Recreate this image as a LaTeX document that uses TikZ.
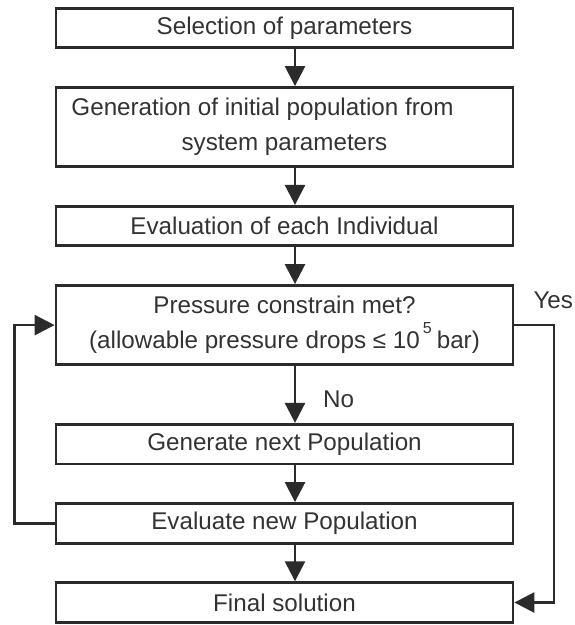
\documentclass[tikz,border=0pt]{standalone}
\usepackage{fontspec}
\setmainfont{Liberation Sans}
\usetikzlibrary{positioning,arrows.meta}

\definecolor{linecol}{HTML}{2B2B2B}
\definecolor{textcol}{HTML}{333333}
\tikzset{
  stage/.style={draw=linecol, line width=1.4pt, fill=white, minimum width=228.5pt, minimum height=19.8pt,
    inner sep=0pt, align=center, text=textcol, font=\fontsize{12.1}{17.5}\selectfont},
  tall/.style={stage, minimum height=39.6pt},
  note/.style={anchor=base west, inner sep=0pt, text=textcol, font=\fontsize{12.1}{17.5}\selectfont},
  flow/.style={draw=linecol, line width=1.3pt, -{Triangle[length=10pt,width=10pt]}},
}

\begin{document}
\begin{tikzpicture}[node distance={18.4pt}]
    \useasboundingbox (0,0) rectangle (287pt,-312.5pt);
    \node[stage] (1) at (142.25pt,-14.05pt) {Selection of parameters};
    \node[tall] (2) [below=of 1] {Generation of initial population from\hspace*{22pt}\\system parameters};
    \node[stage] (3) [below=of 2] {Evaluation of each Individual};
    \node[tall] (4) [below=of 3] {Pressure constrain met?\\(allowable pressure drops ≤ 10\hspace{1.5pt}\raisebox{7.5pt}{\fontsize{8}{8}\selectfont 5}\hspace{2.5pt}bar)};
    \node[stage] (5) [below=28.4pt of 4] {Generate next Population};
    \node[stage] (6) [below=of 5] {Evaluate new Population};
    \node[stage] (7) [below=of 6] {Final solution};
    \node[note] (yes) at ([xshift=9.35pt,yshift=8.25pt]4.east) {Yes};
    \node[note] (no) at ([xshift=19.1pt,yshift=-20.45pt]4.south) {No};
\begin{scope}[flow]
    \foreach \a/\b in {1/2,2/3,3/4,4/5,5/6,6/7}
      \draw ([xshift=5.25pt]\a.south) -- ([xshift=5.25pt]\b.north);
    \draw (6.west) -- ++(-20pt,0) |- (4.west);
    \draw (4.east) -- ++(19.85pt,0) |- (7.east);
\end{scope}
\end{tikzpicture}
\end{document}
